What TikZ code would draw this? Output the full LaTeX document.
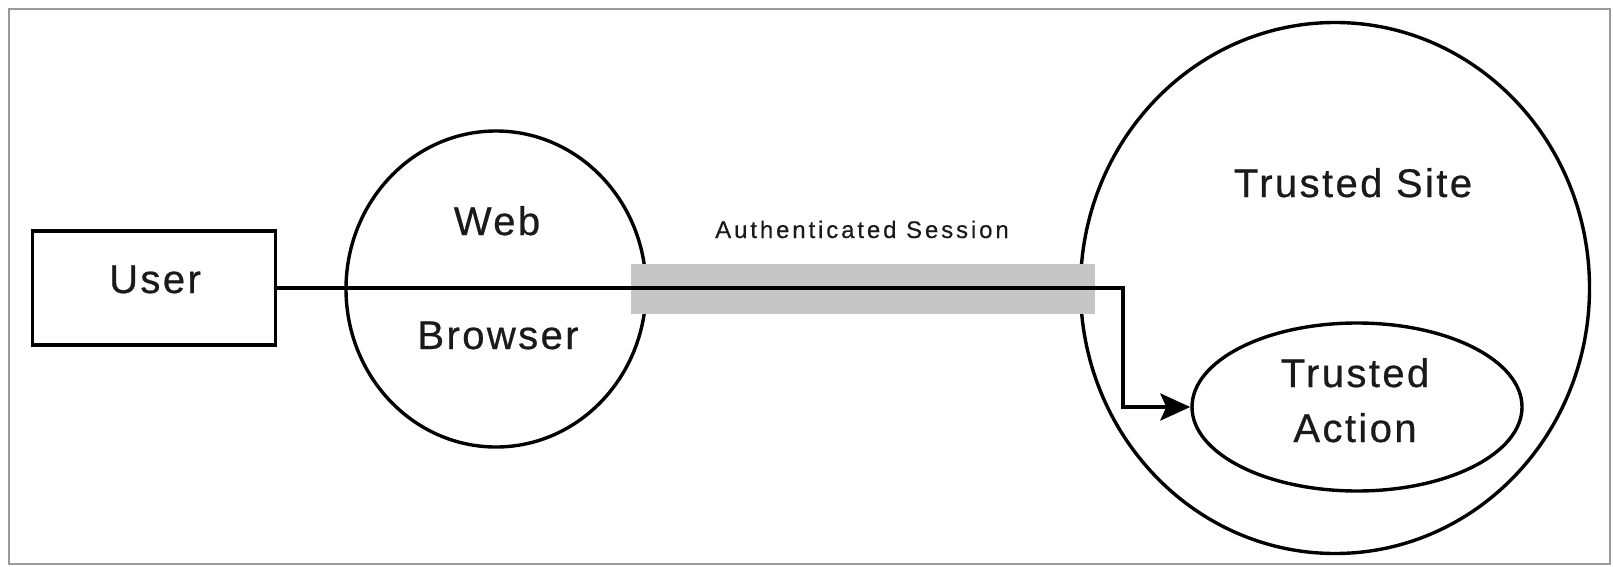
\documentclass[tikz,border=0pt]{standalone}
\usepackage{fontspec}
\setmainfont{Liberation Sans}
\newfontfamily\labelfont[LetterSpace=6,FakeBold=0.6]{Liberation Sans}
\newfontfamily\spacedfont[LetterSpace=12,FakeBold=0.4]{Liberation Sans}
\usetikzlibrary{arrows.meta,shapes.geometric}
\definecolor{framegray}{HTML}{9A9A9A}
\definecolor{bandgray}{HTML}{C6C6C6}
\definecolor{inkblack}{HTML}{1A1A1A}
\tikzset{
  shapeline/.style={draw=black, line width=3.4pt, inner sep=0pt},
  txt/.style={inner sep=0pt, anchor=base, text=inkblack, font=\labelfont\fontsize{40}{44}\selectfont},
  smalltxt/.style={inner sep=0pt, anchor=base, text=inkblack, font=\spacedfont\fontsize{24}{28}\selectfont},
  sessionband/.style={fill=bandgray, draw=none, minimum width=464pt, minimum height=50pt, inner sep=0pt},
  conn/.style={draw=black, line width=3.4pt, -{Stealth[length=30pt,width=27pt,inset=6pt]}}
}
\begin{document}
\begin{tikzpicture}[x=1pt,y=-1pt]
  % page and outer frame
  \useasboundingbox (0,0) rectangle (1613,567);
  \fill[white] (0,0) rectangle (1613,567);
  \draw[framegray, line width=2pt] (9,9) rectangle (1610,564);

  % shapes
  \node[shapeline, rectangle, minimum width=243pt, minimum height=114pt] (user) at (154,288) {};
  \node[shapeline, ellipse, minimum width=300pt, minimum height=316pt] (browser) at (496,289) {};
  \node[shapeline, ellipse, minimum width=509pt, minimum height=531pt] (site) at (1335,288) {};
  \node[shapeline, ellipse, minimum width=330pt, minimum height=168pt] (action) at (1357,407) {};

  % authenticated session band
  \node[sessionband] (band) at (863,289) {};

  % labels
  \node[txt] (userlabel) at (155,293) {User};
  \node[txt] (weblabel) at (497,235) {Web};
  \node[txt] (browserlabel) at (498,349) {Browser};
  \node[txt] (sitelabel) at (1353,197) {Trusted Site};
  \node[txt] (actionlabel1) at (1355,387) {Trusted};
  \node[txt] (actionlabel2) at (1355,442) {Action};
  \node[smalltxt] (bandlabel) at (862,238) {Authenticated Session};

  % request path from the user through the session to the action
  \coordinate (bend) at (1123,350);
  \draw[conn] (user.east) -| (bend) |- (action.west);
\end{tikzpicture}
\end{document}
